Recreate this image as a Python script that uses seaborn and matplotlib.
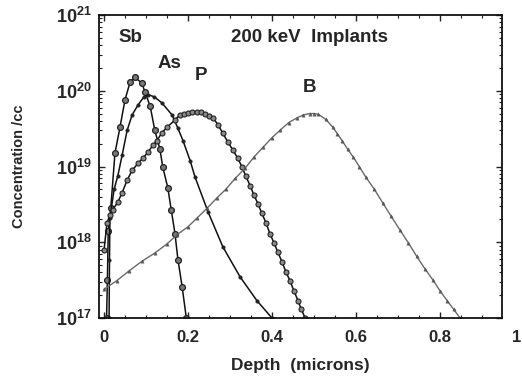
import numpy as np
import pandas as pd
import matplotlib
matplotlib.use("Agg")
import matplotlib.pyplot as plt
import seaborn as sns

# ---- data (depth in microns, concentration per cc) ----
sb_depth = [0.006, 0.008, 0.010, 0.016, 0.026, 0.038, 0.050, 0.062, 0.074, 0.090,
            0.098, 0.110, 0.121, 0.133, 0.140, 0.152, 0.160, 0.169, 0.176, 0.186, 0.196]
sb_conc = [1.0e17, 3.2e17, 1.4e18, 2.8e18, 1.5e19, 3.3e19, 7.6e19, 1.3e20, 1.5e20, 1.26e20,
           9.5e19, 6.2e19, 3.0e19, 1.7e19, 9.8e18, 5.2e18, 2.7e18, 1.3e18, 5.9e17, 2.6e17, 1.0e17]

as_depth = [0.012, 0.013, 0.014, 0.024, 0.033, 0.043, 0.055, 0.067, 0.081, 0.095,
            0.105, 0.120, 0.138, 0.162, 0.176, 0.188, 0.205, 0.217, 0.248, 0.283,
            0.324, 0.364, 0.400]
as_conc = [1.0e17, 5.9e17, 2.1e18, 5.0e18, 7.6e18, 1.4e19, 3.0e19, 4.8e19, 6.5e19, 8.3e19,
           8.9e19, 8.3e19, 6.9e19, 4.8e19, 3.2e19, 2.2e19, 1.2e19, 7.2e18, 2.5e18, 8.7e17,
           3.5e17, 1.7e17, 1.0e17]

p_depth = [0.000, 0.007, 0.014, 0.021, 0.033, 0.043, 0.055, 0.067, 0.081, 0.093,
           0.105, 0.116, 0.126, 0.138, 0.150, 0.169, 0.180, 0.190, 0.200, 0.210,
           0.221, 0.230, 0.240, 0.250, 0.260, 0.272, 0.283, 0.295, 0.307, 0.318,
           0.329, 0.338, 0.348, 0.357, 0.367, 0.376, 0.386, 0.395, 0.405, 0.414,
           0.424, 0.433, 0.443, 0.452, 0.462, 0.470, 0.479]
p_conc = [7.9e17, 1.8e18, 2.3e18, 2.7e18, 3.4e18, 4.5e18, 6.6e18, 8.9e18, 1.1e19, 1.3e19,
          1.55e19, 1.9e19, 2.2e19, 2.8e19, 3.3e19, 4.1e19, 4.8e19, 5.0e19, 5.1e19, 5.2e19,
          5.25e19, 5.2e19, 5.0e19, 4.7e19, 4.4e19, 3.5e19, 2.75e19, 2.1e19, 1.65e19, 1.3e19,
          9.8e18, 7.4e18, 5.6e18, 4.2e18, 3.2e18, 2.4e18, 1.8e18, 1.3e18, 9.8e17, 7.4e17,
          5.5e17, 4.1e17, 3.1e17, 2.3e17, 1.7e17, 1.3e17, 1.0e17]

b_depth = [0.000, 0.030, 0.060, 0.090, 0.121, 0.150, 0.174, 0.200, 0.222, 0.245,
           0.268, 0.290, 0.313, 0.336, 0.358, 0.379, 0.400, 0.419, 0.440, 0.460,
           0.475, 0.490, 0.500, 0.510, 0.528, 0.545, 0.556, 0.567, 0.580, 0.593,
           0.608, 0.624, 0.644, 0.664, 0.684, 0.705, 0.725, 0.745, 0.764, 0.783,
           0.800, 0.817, 0.833, 0.848]
b_conc = [2.4e17, 3.1e17, 4.2e17, 5.6e17, 7.2e17, 9.5e17, 1.26e18, 1.6e18, 2.1e18, 2.8e18,
          3.8e18, 5.0e18, 7.0e18, 9.5e18, 1.35e19, 1.8e19, 2.4e19, 3.0e19, 3.8e19, 4.4e19,
          4.8e19, 5.0e19, 5.0e19, 4.9e19, 4.2e19, 3.3e19, 2.7e19, 2.2e19, 1.7e19, 1.35e19,
          1.0e19, 7.2e18, 5.0e18, 3.3e18, 2.2e18, 1.45e18, 9.8e17, 6.5e17, 4.5e17, 3.2e17,
          2.3e17, 1.7e17, 1.3e17, 1.0e17]

species_labels = ["Sb", "As", "P", "B"]
x_ticks = [0, 0.2, 0.4, 0.6, 0.8]
x_tick_labels = ["0", "0.2", "0.4", "0.6", "0.8"]
y_ticks = [1e17, 1e18, 1e19, 1e20, 1e21]
y_tick_labels = [r"$\mathbf{10^{17}}$", r"$\mathbf{10^{18}}$", r"$\mathbf{10^{19}}$",
                 r"$\mathbf{10^{20}}$", r"$\mathbf{10^{21}}$"]
title_text = "200 keV  Implants"
x_label = "Depth  (microns)"
y_label = "Concentration /cc"

frames = []
for name, d, c in [("Sb", sb_depth, sb_conc), ("As", as_depth, as_conc),
                   ("P", p_depth, p_conc), ("B", b_depth, b_conc)]:
    frames.append(pd.DataFrame({"depth": d, "conc": c, "species": name}))

sns.set_theme(style="ticks")
plt.rcParams["font.family"] = ["Liberation Sans", "DejaVu Sans"]
plt.rcParams["mathtext.fontset"] = "custom"
plt.rcParams["mathtext.rm"] = "Liberation Sans"
plt.rcParams["mathtext.bf"] = "Liberation Sans:bold"

fig = plt.figure(figsize=(5.22, 3.79), dpi=100)
ax = fig.add_axes([99 / 522, 1 - 318 / 379, (502 - 99) / 522, (318 - 15) / 379])

styles = {
    "Sb": dict(color="#111111", marker="o", markersize=4.2, markerfacecolor="#777777",
               markeredgecolor="#222222", markeredgewidth=0.9, linewidth=1.1),
    "As": dict(color="#111111", marker="o", markersize=2.4, markerfacecolor="#222222",
               markeredgecolor="#222222", markeredgewidth=0.5, linewidth=1.1),
    "P": dict(color="#111111", marker="o", markersize=3.6, markerfacecolor="#888888",
              markeredgecolor="#222222", markeredgewidth=0.8, linewidth=1.1),
    "B": dict(color="#6a6a6a", marker="^", markersize=2.4, markerfacecolor="#555555",
              markeredgecolor="#555555", markeredgewidth=0.3, linewidth=1.0),
}
for df in frames:
    name = df["species"].iloc[0]
    sns.lineplot(data=df, x="depth", y="conc", ax=ax, sort=False, estimator=None,
                 legend=False, **styles[name])

ax.set_yscale("log")
ax.set_xlim(-0.012, 0.948)
ax.set_ylim(1e17, 1e21)
ax.set_xticks(x_ticks)
ax.set_xticklabels(x_tick_labels, fontsize=12, fontweight="bold")
ax.set_yticks(y_ticks)
ax.set_yticklabels(y_tick_labels, fontsize=13)
ax.xaxis.set_minor_locator(matplotlib.ticker.MultipleLocator(0.05))
ax.tick_params(which="both", direction="in", top=True, right=True, color="#222222")
ax.tick_params(which="major", length=4, width=1)
ax.tick_params(which="minor", length=2.5, width=0.8)
ax.tick_params(axis="x", which="major", pad=9)
ax.tick_params(axis="y", which="major", pad=5)
for s in ax.spines.values():
    s.set_linewidth(1.3)
    s.set_color("#111111")

ax.text(0.983, -0.040, "1", transform=ax.get_xaxis_transform(), ha="center", va="top",
        fontsize=12, fontweight="bold", clip_on=False)

ax.set_xlabel(x_label, fontsize=12.5, fontweight="bold", labelpad=9)
ax.set_ylabel(y_label, fontsize=10.5, fontweight="bold", labelpad=22)

label_pos = {"Sb": (0.064, 5.1e20), "As": (0.155, 2.3e20), "P": (0.231, 1.6e20), "B": (0.49, 1.1e20)}
for name in species_labels:
    x, y = label_pos[name]
    ax.text(x, y, name, fontsize=13.5, fontweight="bold", ha="center", va="center")
ax.text(0.49, 5.1e20, title_text, fontsize=13.5, fontweight="bold", ha="center", va="center")

fig.savefig("out.png", dpi=100)
